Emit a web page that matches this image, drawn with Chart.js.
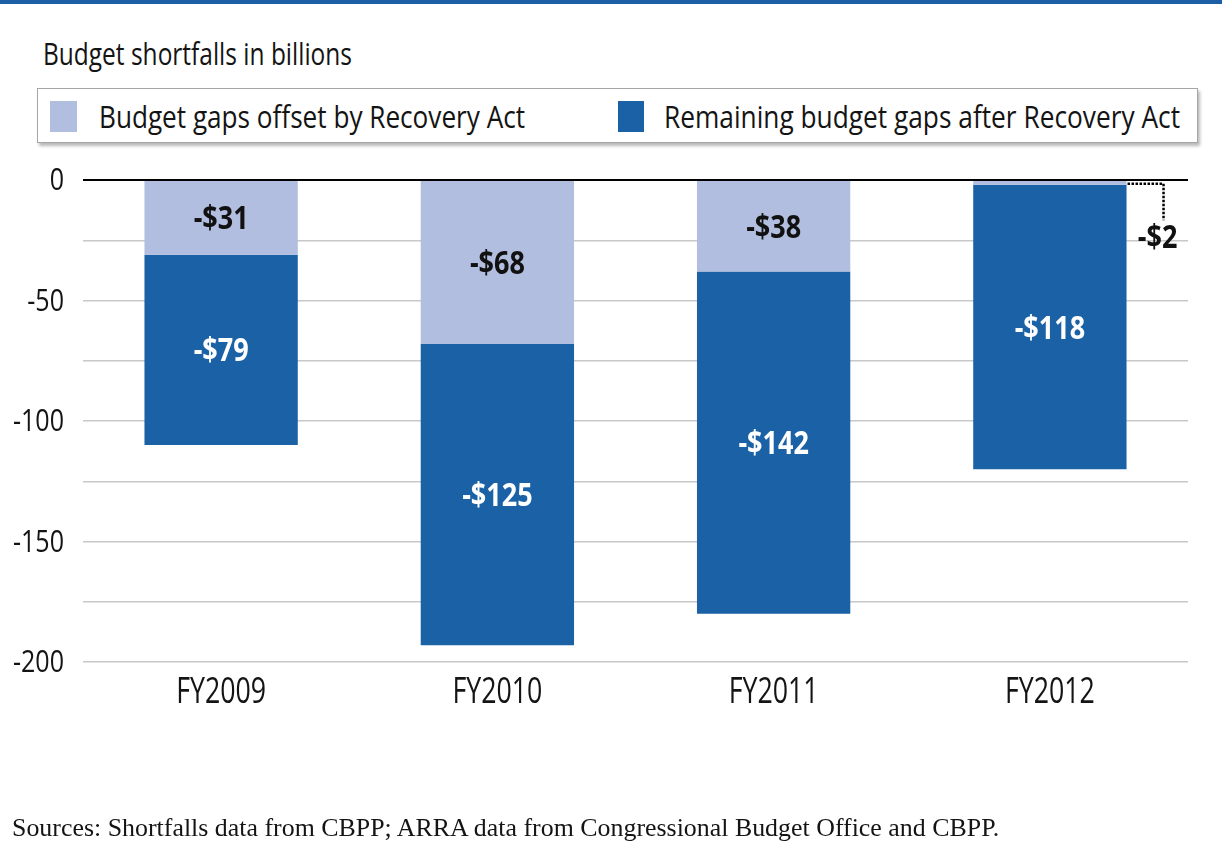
<!DOCTYPE html>
<html>
<head>
<meta charset="utf-8">
<title>Budget shortfalls in billions</title>
<script src="https://cdn.jsdelivr.net/npm/chart.js@4.4.1/dist/chart.umd.min.js"></script>
<style>
  html, body { margin: 0; padding: 0; background: #fff; }
  #page { position: relative; width: 1222px; height: 848px; overflow: hidden; background: #fff; }
  #topbar { position: absolute; left: 0; top: 0; width: 1222px; height: 4px; background: #1c5fa4; }
  #chartBox { position: absolute; left: 0; top: 0; width: 1222px; height: 848px; }
  .txt { position: absolute; white-space: nowrap; transform-origin: 0 0; color: #141414; margin: 0; }
  #legend { position: absolute; left: 37px; top: 88px; width: 1159px; height: 53px;
            border: 1px solid #a6a6a6; background: #fff; box-shadow: 2px 3px 3px rgba(0,0,0,0.28); }
  .swatch { position: absolute; top: 101px; height: 31px; }
</style>
</head>
<body>
<div id="page">
  <div id="topbar"></div>
  <div id="legend"></div>
  <div class="swatch" id="sw0" style="left:50px;width:27px;"></div>
  <div class="swatch" id="sw1" style="left:618px;width:26px;"></div>
  <div class="txt" id="title"></div>
  <div class="txt" id="leg0"></div>
  <div class="txt" id="leg1"></div>
  <div id="chartBox"><canvas id="chart" width="1222" height="848"></canvas></div>
  <div class="txt" id="source"></div>
</div>
<script>
// ---- data ----
const categories = ['FY2009', 'FY2010', 'FY2011', 'FY2012'];
const offsetByRecoveryAct = [-31, -68, -38, -2];
const remainingAfterRecoveryAct = [-79, -125, -142, -118];
const seriesNames = ['Budget gaps offset by Recovery Act', 'Remaining budget gaps after Recovery Act'];
const yLabelValues = [0, -50, -100, -150, -200];
const titleText = 'Budget shortfalls in billions';
const sourceText = 'Sources: Shortfalls data from CBPP; ARRA data from Congressional Budget Office and CBPP.';

// ---- styling ----
const LIGHT = '#b2bedf';
const DARK = '#1b61a6';
const SANS = '"Open Sans", "Noto Sans", sans-serif';
const SERIF = '"Liberation Serif", "DejaVu Serif", serif';

// Size a font so its capital height and the width of a sample string hit the wanted values;
// the width is reached with a horizontal squeeze, giving a condensed face.
const probe = document.createElement('canvas').getContext('2d');
function fitFont(family, weight, cap, sample, width) {
  probe.font = `${weight} 100px ${family}`;
  const capRatio = probe.measureText('H').actualBoundingBoxAscent / 100;
  const size = cap / capRatio;
  probe.font = `${weight} ${size}px ${family}`;
  const m = probe.measureText(sample);
  return { family, weight, size, sx: width / m.width,
           ascent: m.fontBoundingBoxAscent, descent: m.fontBoundingBoxDescent,
           css: `${weight} ${size}px ${family}` };
}

function placeHtml(id, text, f, left, baseline) {
  const el = document.getElementById(id);
  el.textContent = text;
  el.style.font = f.css;
  el.style.lineHeight = (f.ascent + f.descent) + 'px';
  el.style.left = left + 'px';
  el.style.top = (baseline - f.ascent) + 'px';
  el.style.transform = `scaleX(${f.sx})`;
}

placeHtml('title', titleText, fitFont(SANS, 500, 22, titleText, 309), 43, 65);
placeHtml('leg0', seriesNames[0], fitFont(SANS, 400, 22, seriesNames[0], 426), 99, 128);
placeHtml('leg1', seriesNames[1], fitFont(SANS, 400, 22, seriesNames[1], 516), 664, 128);
placeHtml('source', sourceText, fitFont(SERIF, 400, 17, sourceText, 990), 12, 836);
document.getElementById('sw0').style.background = LIGHT;
document.getElementById('sw1').style.background = DARK;

const yTickFont = fitFont(SANS, 500, 23, '-100', 51);
const xTickFont = fitFont(SANS, 500, 26, 'FY2009', 90);
const valueFont = fitFont(SANS, 700, 23, '-$31', 55);

// Draw condensed text centred vertically on its capital height.
function drawText(ctx, text, x, yMid, f, align, color) {
  ctx.save();
  ctx.font = f.css;
  ctx.fillStyle = color;
  ctx.textBaseline = 'alphabetic';
  ctx.textAlign = 'left';
  const w = ctx.measureText(text).width * f.sx;
  let left = x;
  if (align === 'center') left = x - w / 2;
  else if (align === 'right') left = x - w;
  probe.font = f.css;
  const cap = probe.measureText('H').actualBoundingBoxAscent;
  ctx.translate(left, yMid + cap / 2);
  ctx.scale(f.sx, 1);
  ctx.fillText(text, 0, 0);
  ctx.restore();
}

// Axis labels, zero line and value labels, placed through the chart's scales.
const annotate = {
  id: 'annotate',
  afterDatasetsDraw(chart) {
    const { ctx, chartArea, scales } = chart;
    const y = scales.y, x = scales.x;

    // zero line
    const y0 = y.getPixelForValue(0);
    ctx.save();
    ctx.strokeStyle = '#000';
    ctx.lineWidth = 2;
    ctx.beginPath();
    ctx.moveTo(chartArea.left, y0);
    ctx.lineTo(chartArea.right, y0);
    ctx.stroke();
    ctx.restore();

    // y labels
    yLabelValues.forEach(v => {
      drawText(ctx, String(v), chartArea.left - 19, y.getPixelForValue(v) - 1, yTickFont, 'right', '#141414');
    });
    // x labels
    x.getLabels().forEach((lab, i) => {
      drawText(ctx, lab, x.getPixelForValue(i), chartArea.bottom + 28, xTickFont, 'center', '#141414');
    });

    // value labels
    chart.data.datasets.forEach((ds, di) => {
      const meta = chart.getDatasetMeta(di);
      meta.data.forEach((bar, i) => {
        const v = ds.data[i];
        const label = '-$' + Math.abs(v);
        const top = Math.min(bar.y, bar.base), bottom = Math.max(bar.y, bar.base);
        if (bottom - top < 20) {
          // too thin for an inside label: dotted leader to a label at the side
          const right = bar.x + bar.width / 2;
          const lx = right + 31;
          const ly = y.getPixelForValue(-25) - 4;
          const midY = (top + bottom) / 2 + 1;
          ctx.save();
          ctx.strokeStyle = '#000';
          ctx.lineWidth = 2.5;
          ctx.setLineDash([2.5, 1.5]);
          ctx.beginPath();
          ctx.moveTo(right + 1, midY);
          ctx.lineTo(lx + 6, midY);
          ctx.lineTo(lx + 6, ly - 16);
          ctx.stroke();
          ctx.restore();
          drawText(ctx, label, lx, ly, valueFont, 'center', '#111');
        } else {
          drawText(ctx, label, bar.x, (top + bottom) / 2, valueFont, 'center', di === 0 ? '#111' : '#fff');
        }
      });
    });
  }
};

new Chart(document.getElementById('chart'), {
  type: 'bar',
  data: {
    labels: categories,
    datasets: [
      { label: seriesNames[0], data: offsetByRecoveryAct, backgroundColor: LIGHT, borderWidth: 0 },
      { label: seriesNames[1], data: remainingAfterRecoveryAct, backgroundColor: DARK, borderWidth: 0 }
    ]
  },
  options: {
    responsive: false,
    animation: false,
    events: [],
    layout: { padding: { top: 180, right: 34, bottom: 0, left: 0 } },
    datasets: { bar: { categoryPercentage: 1, barPercentage: 0.555 } },
    plugins: { legend: { display: false }, title: { display: false }, tooltip: { enabled: false } },
    scales: {
      x: {
        stacked: true,
        grid: { display: false },
        border: { display: false },
        ticks: { display: false },
        afterFit(scale) { scale.height = 186; }
      },
      y: {
        stacked: true,
        min: -200,
        max: 0,
        ticks: { display: false, stepSize: 25 },
        grid: { color: '#c8c8c8', lineWidth: 1.5, drawTicks: false },
        border: { display: false },
        afterFit(scale) { scale.width = 83; }
      }
    }
  },
  plugins: [annotate]
});
</script>
</body>
</html>
